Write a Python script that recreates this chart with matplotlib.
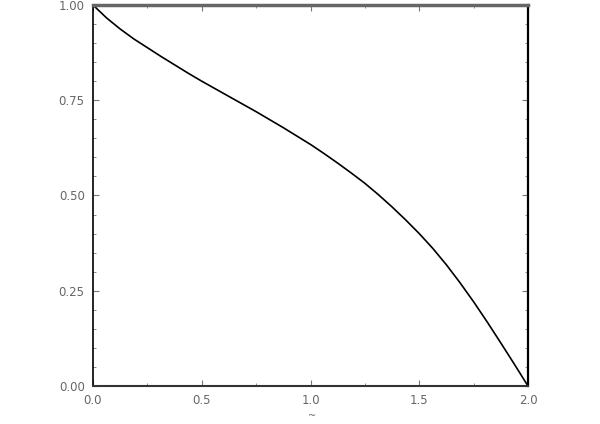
import numpy as np
import matplotlib
matplotlib.use('Agg')
import matplotlib.pyplot as plt
from matplotlib.ticker import MultipleLocator

# curve values
x_vals = [0.0, 0.0625, 0.125, 0.1875, 0.25, 0.3125, 0.375, 0.4375, 0.5,
          0.5625, 0.625, 0.6875, 0.75, 0.8125, 0.875, 0.9375, 1.0,
          1.0625, 1.125, 1.1875, 1.25, 1.3125, 1.375, 1.4375, 1.5,
          1.5625, 1.625, 1.6875, 1.75, 1.8125, 1.875, 1.9375, 2.0]
y_vals = [1.000, 0.966, 0.937, 0.911, 0.888, 0.865, 0.843, 0.821, 0.800,
          0.780, 0.760, 0.740, 0.720, 0.699, 0.678, 0.656, 0.634,
          0.610, 0.585, 0.559, 0.532, 0.502, 0.470, 0.436, 0.400,
          0.361, 0.318, 0.271, 0.221, 0.168, 0.113, 0.057, 0.000]

x_ticks = [0.0, 0.5, 1.0, 1.5, 2.0]
y_ticks = [0.0, 0.25, 0.5, 0.75, 1.0]

fig = plt.figure(figsize=(6, 4.24), dpi=100)
ax = fig.add_axes([93 / 600, 1 - 386 / 424, 435 / 600, 381 / 424])

ax.plot(x_vals, y_vals, color='black', linewidth=1.2)

ax.set_xlim(0, 2)
ax.set_ylim(0, 1)
ax.set_xticks(x_ticks)
ax.set_xticklabels([f'{v:.1f}' for v in x_ticks])
ax.set_yticks(y_ticks)
ax.set_yticklabels([f'{v:.2f}' for v in y_ticks])
ax.xaxis.set_minor_locator(MultipleLocator(0.25))
ax.yaxis.set_minor_locator(MultipleLocator(0.05))

ax.tick_params(which='both', direction='in', top=True, right=True,
               colors='#777777', labelcolor='#666666', labelsize=8.5)
ax.tick_params(which='major', length=4, width=0.8, pad=6)
ax.tick_params(which='minor', length=2, width=0.6)

ax.spines['top'].set_color('#666666')
ax.spines['top'].set_linewidth(2.5)
ax.spines['bottom'].set_color('#333333')
ax.spines['bottom'].set_linewidth(1.5)
ax.spines['left'].set_color('black')
ax.spines['left'].set_linewidth(1.2)
ax.spines['right'].set_color('black')
ax.spines['right'].set_linewidth(1.6)

# axis label (only the tilde is visible near the lower edge)
fig.text(312 / 600, 1 - 416 / 424, '~', ha='center', va='center',
         fontsize=7, color='#666666')

fig.savefig('out.png', dpi=100)
